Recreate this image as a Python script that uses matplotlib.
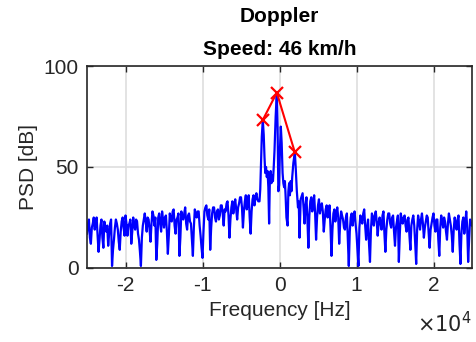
import numpy as np
import matplotlib
matplotlib.use("Agg")
import matplotlib.pyplot as plt

# ---------------------------------------------------------------------------
# Data (PSD in dB)
# ---------------------------------------------------------------------------
# low band: -25000 .. -2750 Hz, 125 Hz steps
left_start, left_step = -25000, 125
left_db = [
    17, 22, 24, 15, 12, 20, 22, 25, 19, 23, 25, 16, 8, 14, 21, 24, 15, 10, 23, 20,
    18, 21, 11, 17, 22, 24, 1, 9, 14, 20, 24, 22, 19, 13, 9, 18, 23, 25, 20, 16,
    26, 22, 16, 21, 22, 24, 12, 18, 25, 21, 19, 24, 23, 17, 14, 8, 1, 15, 21, 24,
    27, 23, 18, 25, 24, 19, 13, 22, 28, 26, 21, 25, 4, 12, 25, 27, 22, 18, 28, 24,
    20, 25, 26, 18, 7, 16, 27, 24, 23, 28, 29, 21, 17, 24, 25, 27, 6, 15, 28, 25,
    24, 27, 30, 22, 19, 26, 27, 23, 22, 14, 6, 20, 29, 27, 25, 28, 28, 21, 16, 10,
    5, 18, 28, 30, 31, 26, 24, 29, 9, 20, 27, 30, 30, 25, 23, 28, 29, 24, 26, 31,
    31, 27, 21, 29, 28, 32, 33, 26, 15, 24, 30, 33, 27, 31, 34, 29, 24, 30, 32, 35,
    35, 30, 20, 28, 33, 36, 29, 33, 36, 25, 17, 28, 34, 36, 31, 35, 37, 34, 33,
]

# around the carrier: explicit frequencies
mid_freq = [-2600, -2500, -2400, -2300, -2170, -2050, -1950, -1850, -1750, -1650,
            -1550, -1450, -1350, -1250, -1150, -1050, -950, -850, -750, -650,
            -500, -350, -250, -150, -50, 50, 170, 280, 400, 500,
            600, 700, 800, 900, 1050, 1150, 1250, 1350, 1450, 1550,
            1650, 1800, 1990, 2100, 2250, 2400, 2500, 2600, 2750]
mid_db = [33, 39, 52, 65, 73.3, 66, 55, 47, 50, 45,
          48, 40, 22, 44, 48, 42, 46, 43, 50, 58,
          75, 86.8, 70, 38, 41, 58, 70, 62, 47, 42,
          40, 43, 35, 25, 21, 38, 42, 36, 43, 38,
          45, 52, 57.3, 50, 38, 30, 33, 15, 34]

# high band: 3000 .. 25000 Hz, 125 Hz steps
right_start, right_step = 3000, 125
right_db = [
    37, 30, 22, 31, 35, 24, 10, 26, 33, 35, 28, 32, 36, 27, 14, 25, 31, 34, 27, 30,
    32, 28, 18, 24, 29, 31, 25, 28, 31, 20, 6, 19, 27, 29, 23, 27, 30, 25, 12, 22,
    28, 26, 24, 20, 19, 25, 27, 14, 1, 18, 25, 27, 21, 26, 28, 22, 17, 9, 1, 20,
    26, 24, 22, 27, 29, 21, 14, 20, 24, 12, 3, 19, 27, 25, 21, 26, 28, 23, 16, 22,
    25, 22, 19, 26, 28, 17, 8, 19, 24, 27, 27, 22, 20, 25, 26, 18, 11, 20, 23, 26,
    3, 17, 27, 24, 22, 25, 26, 21, 18, 24, 25, 16, 9, 21, 24, 26, 21, 12, 2, 19,
    26, 23, 19, 24, 27, 22, 15, 20, 23, 26, 25, 17, 10, 19, 22, 25, 27, 21, 18, 24,
    24, 14, 6, 20, 26, 23, 20, 25, 23, 18, 14, 22, 27, 24, 21, 16, 8, 19, 25, 22,
    19, 24, 26, 12, 2, 17, 23, 25, 17, 22, 28, 20, 3, 14, 24, 22, 21,
]

# detected peaks
peak_freq = [-2170, -350, 1990]
peak_db = [73.3, 86.8, 57.3]

title_lines = ["Doppler", "Speed: 46 km/h"]
xtick_vals = [-20000, -10000, 0, 10000, 20000]
xtick_labels = ["-2", "-1", "0", "1", "2"]
ytick_vals = [0, 50, 100]

# ---------------------------------------------------------------------------
left_freq = left_start + left_step * np.arange(len(left_db))
right_freq = right_start + right_step * np.arange(len(right_db))
freq = np.concatenate([left_freq, mid_freq, right_freq])
psd = np.concatenate([left_db, mid_db, right_db])

plt.rcParams["font.family"] = ["Liberation Sans", "DejaVu Sans"]
plt.rcParams["path.simplify"] = False
dark = (0.15, 0.15, 0.15)

fig = plt.figure(figsize=(4.76, 3.42), dpi=100)
ax = fig.add_axes([0.1828, 0.2164, 0.8088, 0.5906])

ax.plot(freq, psd, color="blue", lw=1.6, zorder=2)
ax.plot(peak_freq, peak_db, "r-x", lw=1.5, ms=8, mew=1.6, zorder=3)

ax.set_xlim(-25000, 25000)
ax.set_ylim(0, 100)
ax.set_xticks(xtick_vals)
ax.set_xticklabels(xtick_labels)
ax.set_yticks(ytick_vals)
ax.grid(True, color=(0.87, 0.87, 0.87), lw=1.2, zorder=0)
ax.set_axisbelow(True)
ax.tick_params(direction="in", length=4, width=1, colors=dark, labelsize=15,
               top=True, right=True, pad=6)
for lab in ax.get_xticklabels() + ax.get_yticklabels():
    lab.set_color(dark)
for s in ax.spines.values():
    s.set_color(dark)
    s.set_linewidth(1.2)

ax.set_xlabel("Frequency [Hz]", fontsize=15, color=dark, labelpad=4)
ax.set_ylabel("PSD [dB]", fontsize=15, color=dark, labelpad=4)
ax.set_title("\n".join(title_lines), fontsize=15, fontweight="bold",
             color="black", pad=8, linespacing=1.9)
ax.text(1.0, -0.215, r"$\times10^{4}$", transform=ax.transAxes, ha="right",
        va="top", fontsize=15, color=dark)

fig.savefig("out.png", dpi=100)
